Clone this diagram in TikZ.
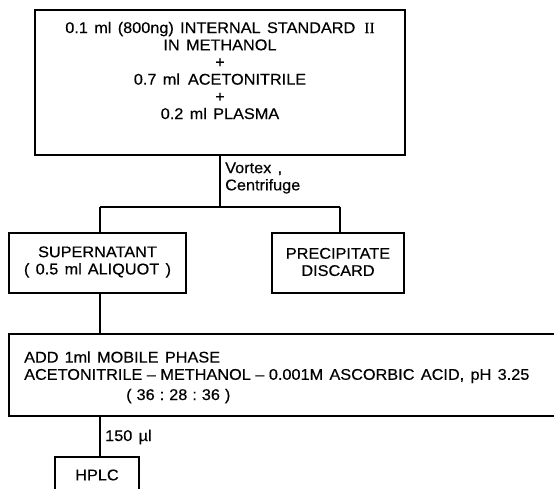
\documentclass[tikz,border=0pt]{standalone}
\usepackage{fontspec}
\setmainfont{Liberation Sans}[FakeStretch=1.05, WordSpace=1.4, FakeBold=0.4]
\newfontfamily\romanfont{Liberation Serif}[FakeBold=0.4]
\newcommand{\wdash}{\hspace{4.5pt}--\hspace{4.5pt}}
\newcommand{\rsp}{\hspace{5pt}}
\begin{document}
\begin{tikzpicture}[x=1pt,y=-1pt,
  box/.style={draw, line width=1.2pt, inner sep=0pt},
  txt/.style={inner sep=0pt, font=\fontsize{15.5}{17.2}\selectfont},
  conn/.style={line width=1.2pt}]
\useasboundingbox (0,0) rectangle (554,489);
\clip (0,0) rectangle (554,489);
% boxes
\node[box, minimum width=370pt, minimum height=145pt] (top) at (220,82.5) {};
\node[box, minimum width=177pt, minimum height=60pt] (sup) at (97.5,263) {};
\node[box, minimum width=132pt, minimum height=60pt] (pre) at (338,263) {};
\node[box, minimum width=551pt, minimum height=82pt] (mob) at (284.5,375) {};
\node[box, minimum width=84pt, minimum height=43pt] (hplc) at (97,478.5) {};
% texts
\node[txt, align=center] (toptext) at (220,70.5) {0.1 ml (800ng) INTERNAL STANDARD\hspace{9pt}{\romanfont II}\\ IN METHANOL\\ +\\ 0.7 ml\hspace{8pt}ACETONITRILE\\ +\\ 0.2 ml PLASMA};
\node[txt, align=center] (suptext) at (97.5,262) {SUPERNATANT\\ ( 0.5 ml\hspace{6pt}ALIQUOT )};
\node[txt, align=center] (pretext) at (338,262) {PRECIPITATE\\ DISCARD};
\node[txt, anchor=west] (m1) at (24,357) {ADD\hspace{6pt}1ml MOBILE PHASE};
\node[txt, anchor=west] (m2) at (24,376) {ACETONITRILE\wdash METHANOL\wdash 0.001M ASCORBIC ACID, pH 3.25};
\node[txt, anchor=west] (m3) at (126,396) {(\rsp36\rsp:\rsp28\rsp:\rsp36\rsp)};
\node[txt] (hplctext) at (97,475) {HPLC};
% connectors
\coordinate (split) at (220,207);
\coordinate (bl) at (100,207);
\coordinate (br) at (340,207);
\draw[conn] (top.south) -- (split);
\draw[conn] (bl) -- (br);
\draw[conn] (bl) -- (bl |- sup.north);
\draw[conn] (br) -- (br |- pre.north);
\draw[conn] (sup.south -| bl) -- (mob.north -| bl);
\draw[conn] (mob.south -| bl) -- (hplc.north -| bl);
% labels
\node[txt, align=left, anchor=west] (vortex) at (225,178) {Vortex ,\\ Centrifuge};
\node[txt, anchor=west] (vol) at (105,437) {150 µl};
\end{tikzpicture}
\end{document}
